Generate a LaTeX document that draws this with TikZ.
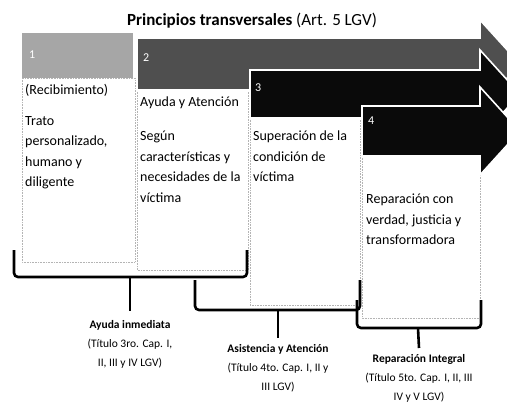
\documentclass[tikz,border=0pt]{standalone}
\usepackage{fontspec}
\setmainfont{Carlito}
\usetikzlibrary{positioning, calc}

\begin{document}
\begin{tikzpicture}[
    x=1pt, y=-1pt,
    every node/.style={font=\fontsize{14}{20.5}\selectfont},
]

% ---------------------------------------------------------------- colours
\definecolor{hdrA}{HTML}{A6A6A6}   % header of (1)
\definecolor{hdrB}{HTML}{4F4F4F}   % arrow of (2)
\definecolor{hdrC}{HTML}{0A0A0A}   % arrows of (3) and (4)
\definecolor{rulecolor}{HTML}{B4B4B4}

% ================================================================
% Geometry, in pixels of the page, y pointing down.
%
%   page 507 x 413
%   header (1) is a plain grey block, x 22..133, y 33..78
%   arrows (2)(3)(4) form a staircase, each runs to x = 480,
%   then a head of half height 44 whose tip (x = 520) is clipped
%   bodies hang below their header, dotted grey border
%   body text: strut on the first line, top of node given
%   three brackets under the bodies, a stem from each to its label
% ================================================================

\def\xhead{480}
\def\xtip{520}
\def\hhead{44}

\tikzset{
    bodybox/.style={draw=rulecolor, densely dotted, line width=0.6pt, fill=white},
    band/.style={draw=white, line width=1.6pt},
    numtxt/.style={text=white, font=\fontsize{12}{14}\selectfont, anchor=west, inner sep=0pt},
    bodytxt/.style={anchor=north west, align=left, inner sep=0pt,
        execute at begin node=\strut},
    brace/.style={draw=black, line width=2.6pt, rounded corners=4pt},
    stem/.style={draw=black, line width=2.6pt},
    lab/.style={font=\fontsize{11.5}{19}\selectfont, align=center, anchor=north,
        inner sep=0pt, execute at begin node=\strut},
}

\useasboundingbox (0,0) rectangle (507,413);
\clip (0,0) rectangle (507,413);

% ---------------------------------------------------------------- title
\node (title) at (252,21)
    {\fontsize{17}{19}\selectfont\textbf{Principios transversales} (Art. 5 LGV)};

% ---------------------------------------------------------------- bodies
\foreach \xa/\ya/\xb/\yb in {22/78/135/262, 137/90/248/270, 250/118/360/305, 362/156/480/318} {
    \draw[bodybox] (\xa,\ya) rectangle (\xb,\yb);
}

% ---------------------------------------------------------------- headers
\fill[hdrA] (22,33) rectangle (133,78);

\foreach \xs/\yt/\yb/\col in {137/38/90/hdrB, 250/70/118/hdrC, 362/106/156/hdrC} {
    \pgfmathsetmacro{\yc}{(\yt+\yb)/2}
    \filldraw[band, fill=\col] (\xs,\yt) -- (\xhead,\yt) -- (\xhead,\yc-\hhead)
        -- (\xtip,\yc) -- (\xhead,\yc+\hhead) -- (\xhead,\yb) -- (\xs,\yb) -- cycle;
}

\node[numtxt] (n1) at (29,55) {1};
\node[numtxt] (n2) at (143,58) {2};
\node[numtxt] (n3) at (255,88) {3};
\node[numtxt] (n4) at (368,121) {4};

% ---------------------------------------------------------------- texts
\node[bodytxt] (t1a) at (25,80) {(Recibimiento)};
\node[bodytxt] (t1b) at (25,116) {Trato\\personalizado,\\humano y\\diligente};

\node[bodytxt] (t2a) at (140,92) {Ayuda y Atención};
\node[bodytxt] (t2b) at (140,131) {Según\\características y\\necesidades de la\\víctima};

\node[bodytxt] (t3) at (253,131) {Superación de la\\condición de\\víctima};

\node[bodytxt] (t4) at (366,194) {Reparación con\\verdad, justicia y\\transformadora};

% ---------------------------------------------------------------- brackets
\draw[brace] (14,250) -- (14,277) -- (247,277) -- (247,250);
\draw[brace] (195,280) -- (195,310) -- (360,310) -- (360,280);
\draw[brace] (357,300) -- (357,328) -- (481,328) -- (481,300);

\coordinate (m1) at (130,277);
\coordinate (m2) at (278,310);
\coordinate (m3) at (418,328);

\node[lab] (ayuda) at (130,320)
    {\textbf{Ayuda inmediata}\\(Título 3ro. Cap. I,\\II, III y IV LGV)};
\node[lab] (asist) at (278,344)
    {\textbf{Asistencia y Atención}\\(Título 4to. Cap. I, II y\\III LGV)};
\node[lab] (repar) at (419,354)
    {\textbf{Reparación Integral}\\(Título 5to. Cap. I, II, III\\IV y V LGV)};

\draw[stem] (m1) -- ($(ayuda.north)+(0,-9)$);
\draw[stem] (m2) -- ($(asist.north)+(0,-6)$);
\draw[stem] (m3) -- ($(repar.north)+(0,-6)$);

\end{tikzpicture}
\end{document}
